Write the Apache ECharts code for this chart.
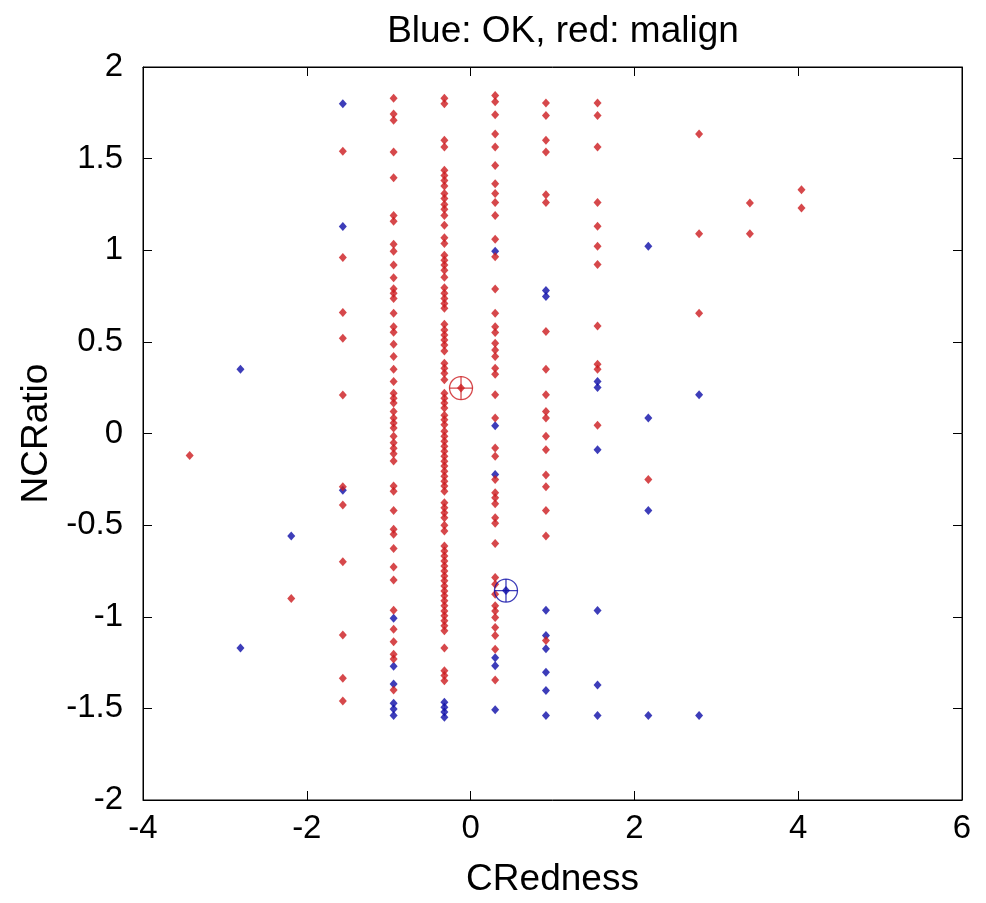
<!DOCTYPE html>
<html>
<head>
<meta charset="utf-8">
<title>CRedness vs NCRatio</title>
<script src="https://cdn.jsdelivr.net/npm/echarts@6/dist/echarts.min.js"></script>
<style>
  html, body { margin: 0; padding: 0; background: #ffffff; }
  #chart { width: 986px; height: 903px; }
</style>
</head>
<body>
<div id="chart"></div>
<script>
// CRedness takes a small set of discrete levels; NCRatio values are listed per level.
const cRednessLevels = [-3.43, -2.81, -2.19, -1.56, -0.94, -0.32, 0.30, 0.92, 1.55, 2.17, 2.79, 3.41, 4.04];

// NCRatio of the OK (benign) cases, one list per CRedness level
const okNCRatio = [
  [],
  [0.35, -1.17],
  [-0.56],
  [1.80, 1.13, -0.31],
  [-1.008, -1.27, -1.367, -1.472, -1.503, -1.539],
  [-1.467, -1.494, -1.52, -1.548],
  [0.995, 0.042, -0.224, -1.224, -1.268, -1.508],
  [0.78, 0.747, -0.964, -1.102, -1.174, -1.303, -1.403, -1.539],
  [0.284, 0.251, -0.088, -0.966, -1.372, -1.539],
  [1.022, 0.084, -0.42, -1.539],
  [0.211, -1.539],
  [],
  []
];

// NCRatio of the malign cases, one list per CRedness level
const malignNCRatio = [
  [-0.12],
  [],
  [-0.90],
  [1.54, 0.96, 0.66, 0.52, 0.21, -0.29, -0.39, -0.70, -1.10, -1.335, -1.46],
  [1.83, 1.744, 1.71, 1.536, 1.396, 1.19, 1.158, 1.033, 0.995, 0.92, 0.85, 0.79, 0.765, 0.737,
   0.656, 0.583, 0.552, 0.487, 0.42, 0.35, 0.284, 0.22, 0.193, 0.166, 0.12, 0.084, 0.057, 0.03,
   -0.015, -0.05, -0.08, -0.11, -0.15, -0.287, -0.315, -0.42, -0.523, -0.55, -0.627, -0.728,
   -0.80, -0.964, -1.068, -1.136, -1.204, -1.23, -1.40],
  [1.83, 1.80, 1.60, 1.563, 1.436, 1.408, 1.38, 1.35, 1.31, 1.282, 1.25, 1.224, 1.19, 1.136,
   1.068, 1.037, 0.973, 0.946, 0.919, 0.891, 0.852, 0.796, 0.765, 0.737, 0.71, 0.683, 0.596,
   0.565, 0.538, 0.51, 0.483, 0.45, 0.384, 0.356, 0.329, 0.293, 0.22, 0.193, 0.166, 0.139, 0.10,
   0.075, 0.048, 0.012, -0.015, -0.042, -0.07, -0.097, -0.124, -0.151, -0.178, -0.206, -0.233,
   -0.26, -0.287, -0.315, -0.378, -0.405, -0.433, -0.46, -0.50, -0.532, -0.614, -0.641, -0.668,
   -0.696, -0.723, -0.75, -0.777, -0.804, -0.832, -0.859, -0.886, -0.913, -0.94, -0.968, -0.995,
   -1.022, -1.049, -1.077, -1.171, -1.294, -1.321, -1.349],
  [1.844, 1.81, 1.74, 1.635, 1.563, 1.463, 1.363, 1.31, 1.26, 1.19, 1.06, 0.964, 0.788, 0.656,
   0.583, 0.551, 0.493, 0.456, 0.42, 0.356, 0.324, 0.211, 0.084, -0.079, -0.124, -0.251, -0.324,
   -0.351, -0.384, -0.46, -0.49, -0.60, -0.786, -0.823, -0.877, -0.94, -0.968, -1.004, -1.058,
   -1.102, -1.177, -1.345],
  [1.804, 1.735, 1.60, 1.536, 1.303, 1.26, 0.556, 0.35, 0.211, 0.12, 0.084, -0.015, -0.088,
   -0.226, -0.29, -0.42, -0.56, -1.13],
  [1.804, 1.735, 1.563, 1.26, 1.131, 1.022, 0.922, 0.587, 0.378, 0.35, 0.045],
  [-0.251],
  [1.635, 1.09, 0.656],
  [1.258, 1.09],
  [1.33, 1.23]
];

// Class means [CRedness, NCRatio]
const malignMean = [-0.117, 0.248];
const okMean = [0.432, -0.857];

// Axis ticks
const xTicks = { min: -4, max: 6, step: 2 };
const yTicks = { min: -2, max: 2, step: 0.5 };

function toPoints(lists) {
  const pts = [];
  lists.forEach((vals, i) => vals.forEach(v => pts.push([cRednessLevels[i], v])));
  return pts;
}

const RED = '#cc1a1e';
const BLUE = '#0c0ca8';
const FONT = 'Liberation Sans, Arial, Helvetica, sans-serif';
const TICK_FONT = 33;
const LABEL_FONT = 37;

const chart = echarts.init(document.getElementById('chart'), null, { renderer: 'canvas' });

const tickStyle = { show: true, inside: true, length: 9, lineStyle: { color: '#000', width: 1 } };
const lineStyle = { show: true, onZero: false, lineStyle: { color: '#000', width: 1 } };

const crossPath = 'path://M0,-10L0,10M-10,0L10,0';
const dotSize = [8, 9];
const ringSize = 23;

chart.setOption({
  animation: false,
  backgroundColor: '#ffffff',
  title: {
    text: 'Blue: OK, red: malign',
    left: 558,
    top: 8,
    textAlign: 'center',
    textStyle: { color: '#000', fontFamily: FONT, fontSize: LABEL_FONT, fontWeight: 'normal' }
  },
  grid: {
    left: 143, top: 67, width: 819, height: 736,
    show: true, borderColor: '#000', borderWidth: 1, backgroundColor: '#fff'
  },
  xAxis: [
    {
      type: 'value', position: 'bottom', min: xTicks.min, max: xTicks.max, interval: xTicks.step,
      name: 'CRedness', nameLocation: 'middle', nameGap: 61,
      nameTextStyle: { color: '#000', fontFamily: FONT, fontSize: LABEL_FONT },
      axisLine: lineStyle, axisTick: tickStyle, splitLine: { show: false },
      axisLabel: { color: '#000', fontFamily: FONT, fontSize: TICK_FONT, margin: 12 }
    },
    {
      type: 'value', position: 'top', min: xTicks.min, max: xTicks.max, interval: xTicks.step,
      axisLine: lineStyle, axisTick: tickStyle, splitLine: { show: false },
      axisLabel: { show: false }
    }
  ],
  yAxis: [
    {
      type: 'value', position: 'left', min: yTicks.min, max: yTicks.max, interval: yTicks.step,
      name: 'NCRatio', nameLocation: 'middle', nameGap: 70, nameRotate: 90,
      nameTextStyle: { color: '#000', fontFamily: FONT, fontSize: LABEL_FONT },
      axisLine: lineStyle, axisTick: tickStyle, splitLine: { show: false },
      axisLabel: { color: '#000', fontFamily: FONT, fontSize: TICK_FONT, margin: 20 }
    },
    {
      type: 'value', position: 'right', min: yTicks.min, max: yTicks.max, interval: yTicks.step,
      axisLine: lineStyle, axisTick: tickStyle, splitLine: { show: false },
      axisLabel: { show: false }
    }
  ],
  series: [
    {
      name: 'OK', type: 'scatter', symbol: 'diamond', symbolSize: dotSize,
      itemStyle: { color: BLUE }, data: toPoints(okNCRatio)
    },
    {
      name: 'malign', type: 'scatter', symbol: 'diamond', symbolSize: dotSize,
      itemStyle: { color: RED }, data: toPoints(malignNCRatio)
    },
    // class means: ring with a cross and a centre dot
    {
      name: 'malign mean', type: 'scatter', symbol: 'circle', symbolSize: ringSize, z: 5,
      itemStyle: { color: 'rgba(0,0,0,0)', borderColor: RED, borderWidth: 1.3 },
      data: [malignMean]
    },
    {
      name: 'malign mean cross', type: 'scatter', symbol: crossPath, symbolSize: ringSize, z: 5,
      itemStyle: { color: 'rgba(0,0,0,0)', borderColor: RED, borderWidth: 1.3 },
      data: [malignMean]
    },
    {
      name: 'malign mean dot', type: 'scatter', symbol: 'diamond', symbolSize: dotSize, z: 6,
      itemStyle: { color: RED }, data: [malignMean]
    },
    {
      name: 'OK mean', type: 'scatter', symbol: 'circle', symbolSize: ringSize, z: 5,
      itemStyle: { color: 'rgba(0,0,0,0)', borderColor: BLUE, borderWidth: 1.3 },
      data: [okMean]
    },
    {
      name: 'OK mean cross', type: 'scatter', symbol: crossPath, symbolSize: ringSize, z: 5,
      itemStyle: { color: 'rgba(0,0,0,0)', borderColor: BLUE, borderWidth: 1.3 },
      data: [okMean]
    },
    {
      name: 'OK mean dot', type: 'scatter', symbol: 'diamond', symbolSize: dotSize, z: 6,
      itemStyle: { color: BLUE }, data: [okMean]
    }
  ]
});
</script>
</body>
</html>
